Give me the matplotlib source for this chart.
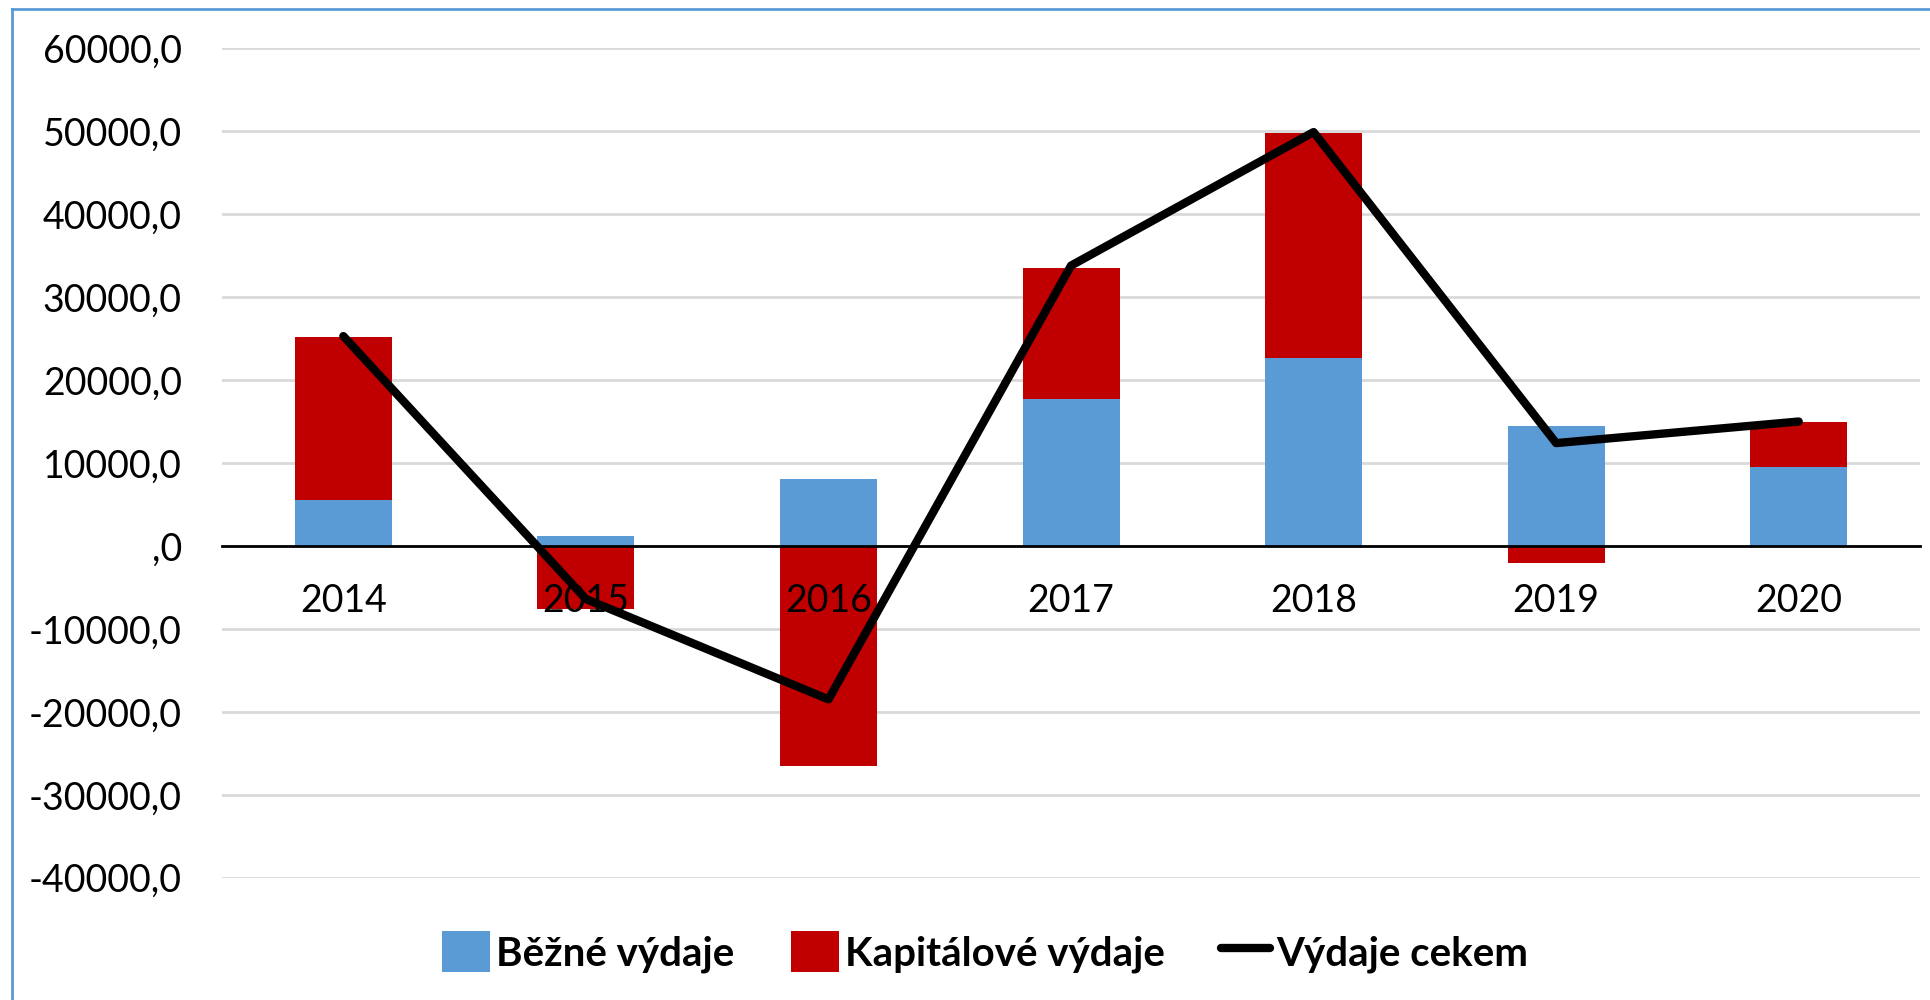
import matplotlib.pyplot as plt
from matplotlib.ticker import FuncFormatter

roky = ["2014", "2015", "2016", "2017", "2018", "2019", "2020"]
bezne = [5500, 1200, 8100, 17700, 22700, 14500, 9500]
kapitalove = [19700, -7600, -26500, 15800, 27100, -2100, 5500]
celkem = [25300, -6400, -18500, 33800, 49900, 12400, 15000]

plt.rcParams['font.family'] = ['Lato', 'DejaVu Sans']

fig = plt.figure(figsize=(19.31, 10), dpi=100)
ax = fig.add_axes([0.115, 0.1223, 0.8793, 0.8294])

x = list(range(len(roky)))
w = 0.40

# kapitálové se skládají nad/pod běžné podle znaménka
spodek = [b if k >= 0 else 0 for b, k in zip(bezne, kapitalove)]

b1 = ax.bar(x, bezne, w, color='#5B9BD5', label='Běžné výdaje', zorder=2)
b2 = ax.bar(x, kapitalove, w, bottom=spodek, color='#C00000', label='Kapitálové výdaje', zorder=2)
l1, = ax.plot(x, celkem, color='black', lw=6, solid_capstyle='round', solid_joinstyle='round',
              label='Výdaje cekem', zorder=5)

ax.set_xlim(-0.5, len(roky) - 0.5)
ax.set_ylim(-40000, 60000)
ax.set_yticks(range(-40000, 60001, 10000))


def fmt(v, pos):
    if v == 0:
        return ",0"
    return f"{v:.1f}".replace(".", ",")


ax.yaxis.set_major_formatter(FuncFormatter(fmt))
ax.set_xticks(x)
ax.set_xticklabels(roky)

ax.grid(axis='y', color='#D9D9D9', lw=2, zorder=0)
for s in ['top', 'right', 'left']:
    ax.spines[s].set_visible(False)
ax.spines['bottom'].set_position(('data', 0))
ax.spines['bottom'].set_color('black')
ax.spines['bottom'].set_linewidth(2)
ax.spines['bottom'].set_zorder(3)

ax.tick_params(axis='y', length=0, pad=29, labelsize=27)
ax.tick_params(axis='x', length=0, pad=27, labelsize=27)
ax.xaxis.set_zorder(4)

leg = fig.legend([b1, b2, l1], ['Běžné výdaje', 'Kapitálové výdaje', 'Výdaje cekem'],
                 loc='center', bbox_to_anchor=(0.51, 0.048), ncol=3, frameon=False,
                 prop={'size': 29, 'weight': 'bold'}, handlelength=1.2, handleheight=1.2,
                 handletextpad=0.15, columnspacing=1.4)

# rámeček grafu - jen levá a horní hrana
fig.add_artist(plt.Line2D([0.006, 0.006], [0, 0.9907], color='#5B9BD5', lw=2,
                          transform=fig.transFigure))
fig.add_artist(plt.Line2D([0.006, 1], [0.9907, 0.9907], color='#5B9BD5', lw=2,
                          transform=fig.transFigure))

fig.savefig("out.png", dpi=100)
